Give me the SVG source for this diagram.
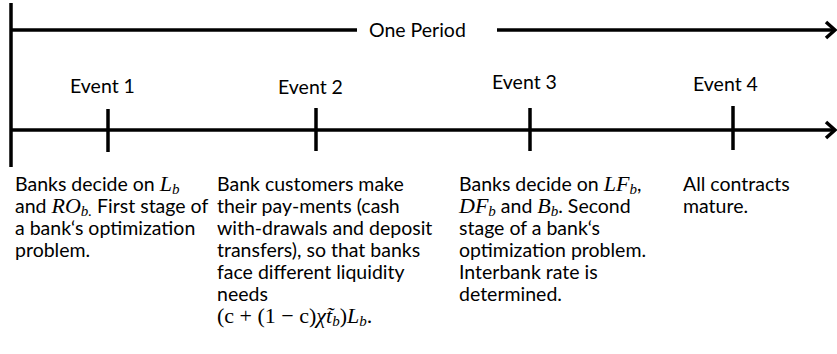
<svg xmlns="http://www.w3.org/2000/svg" width="837" height="354" viewBox="0 0 837 354">
<defs>
<style>
.ln{stroke:#000;stroke-width:3.5;fill:none}
.ar{stroke:#000;stroke-width:3.5;fill:none;stroke-linejoin:miter}
.t{font-family:Lato,"Liberation Sans",sans-serif;font-size:19.5px;fill:#000}
.lb{font-family:Lato,"Liberation Sans",sans-serif;font-size:19.5px;fill:#000}
.m{font-family:"Liberation Serif","DejaVu Serif",serif;font-style:italic;font-size:22px}
.u{font-family:"Liberation Serif","DejaVu Serif",serif;font-style:normal;font-size:22px}
.s{font-family:"Liberation Serif","DejaVu Serif",serif;font-style:italic;font-size:15px}
</style>
</defs>
<rect width="837" height="354" fill="#fff"/>
<g id="connectors">
<line class="ln" x1="11" y1="3" x2="11" y2="167"/>
<line class="ln" x1="11" y1="30" x2="357" y2="30"/>
<line class="ln" x1="497" y1="30" x2="833" y2="30"/>
<path class="ar" d="M826,22 L835,30 L826,38"/>
<line class="ln" x1="11" y1="130" x2="833" y2="130"/>
<path class="ar" d="M826,122 L835,130 L826,138"/>
</g>
<g id="period">
<text class="lb" x="369" y="37">One Period</text>
</g>
<g id="event1">
<text class="lb" x="70" y="93">Event 1</text>
<line class="ln" x1="108" y1="109" x2="108" y2="152"/>
<text class="t" x="15" y="191">Banks decide on <tspan class="m">L</tspan><tspan class="s" dy="3">b</tspan></text>
<text class="t" x="15" y="213">and <tspan class="m">RO</tspan><tspan class="s" dy="3">b.</tspan><tspan dy="-3"> First stage of</tspan></text>
<text class="t" x="15" y="235">a bank‘s optimization</text>
<text class="t" x="15" y="257">problem.</text>
</g>
<g id="event2">
<text class="lb" x="278" y="94">Event 2</text>
<line class="ln" x1="316" y1="108" x2="316" y2="151"/>
<text class="t" x="217" y="191">Bank customers make</text>
<text class="t" x="217" y="213">their pay-ments (cash</text>
<text class="t" x="217" y="235">with-drawals and deposit</text>
<text class="t" x="217" y="257">transfers), so that banks</text>
<text class="t" x="217" y="279">face different liquidity</text>
<text class="t" x="217" y="301">needs</text>
<text class="t" x="217" y="323"><tspan class="u">(c + (1 − c)</tspan><tspan class="m">χt̃</tspan><tspan class="s" dy="3">b</tspan><tspan class="u" dy="-3">)</tspan><tspan class="m">L</tspan><tspan class="s" dy="3">b</tspan><tspan class="u" dy="-3">.</tspan></text>
</g>
<g id="event3">
<text class="lb" x="492" y="89">Event 3</text>
<line class="ln" x1="530" y1="108" x2="530" y2="151"/>
<text class="t" x="459" y="191">Banks decide on <tspan class="m">LF</tspan><tspan class="s" dy="3">b</tspan><tspan dy="-3">,</tspan></text>
<text class="t" x="459" y="213"><tspan class="m">DF</tspan><tspan class="s" dy="3">b</tspan><tspan dy="-3"> and </tspan><tspan class="m">B</tspan><tspan class="s" dy="3">b</tspan><tspan dy="-3">. Second</tspan></text>
<text class="t" x="459" y="235">stage of a bank‘s</text>
<text class="t" x="459" y="257">optimization problem.</text>
<text class="t" x="459" y="279">Interbank rate is</text>
<text class="t" x="459" y="301">determined.</text>
</g>
<g id="event4">
<text class="lb" x="693" y="91">Event 4</text>
<line class="ln" x1="733" y1="106" x2="733" y2="150"/>
<text class="t" x="683" y="191">All contracts</text>
<text class="t" x="683" y="213">mature.</text>
</g>
</svg>
